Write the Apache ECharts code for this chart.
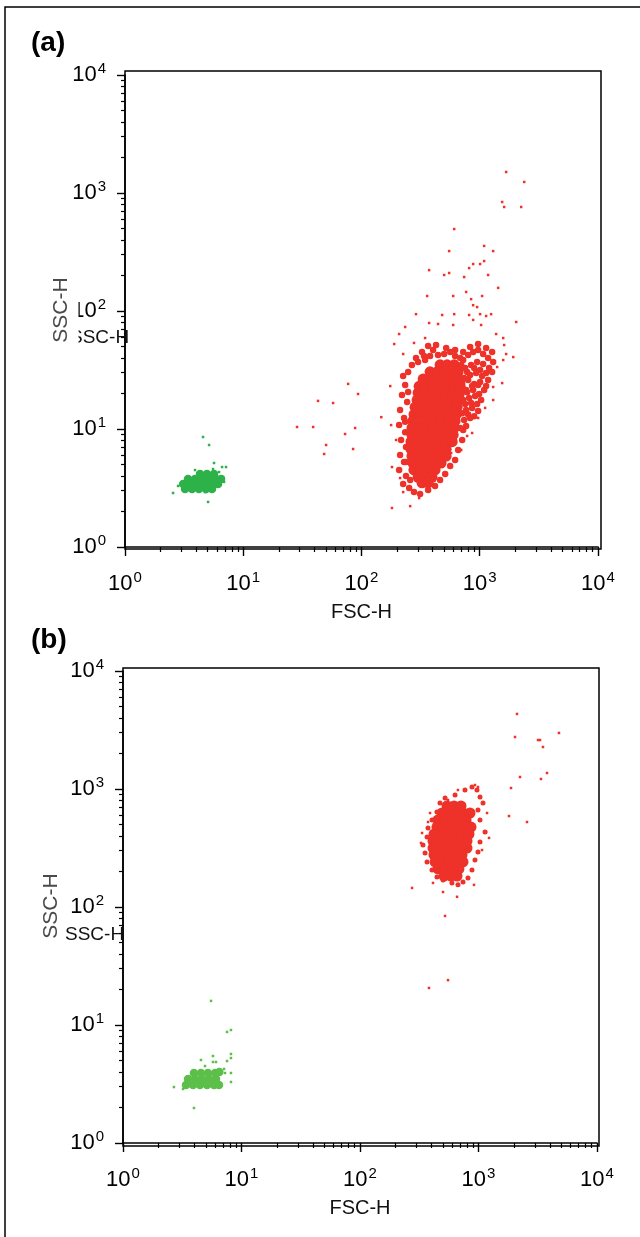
<!DOCTYPE html>
<html>
<head>
<meta charset="utf-8">
<script src="https://cdn.jsdelivr.net/npm/echarts@6/dist/echarts.min.js"></script>
<style>
  html, body { margin: 0; padding: 0; background: #fff; }
  #main { width: 640px; height: 1237px; }
</style>
</head>
<body>
<div id="main"></div>
<script>
// axis ticks (log decades) and their exponent labels
var decadeTicks = [1, 10, 100, 1000, 10000];
var decadeExps = ['0', '1', '2', '3', '4'];
var minorTicks = [2, 3, 4, 5, 6, 7, 8, 9, 20, 30, 40, 50, 60, 70, 80, 90,
  200, 300, 400, 500, 600, 700, 800, 900, 2000, 3000, 4000, 5000, 6000, 7000, 8000, 9000];

// panel (a) : [FSC-H, SSC-H]
var aRedCore = [
  [462,35],[530,35],[608,35],
  [380,30.5],[436,30.5],[500,30.5],[573,30.5],[657,30.5],
  [332,26.5],[380,26.5],[436,26.5],[500,26.5],[573,26.5],[657,26.5],
  [307,23],[352,23],[403,23],[462,23],[530,23],[608,23],[683,23],
  [301,20.2],[345,20.2],[395,20.2],[453,20.2],[520,20.2],[596,20.2],[670,20.2],
  [295,17.6],[338,17.6],[388,17.6],[444,17.6],[510,17.6],[585,17.6],[657,17.6],
  [284,15.3],[325,15.3],[373,15.3],[427,15.3],[490,15.3],[562,15.3],[644,15.3],
  [278,13.3],[319,13.3],[366,13.3],[419,13.3],[481,13.3],[551,13.3],[632,13.3],
  [272,11.7],[313,11.7],[359,11.7],[411,11.7],[471,11.7],[541,11.7],[619,11.7],
  [267,10.2],[307,10.2],[352,10.2],[403,10.2],[462,10.2],[530,10.2],[608,10.2],
  [267,8.9],[307,8.9],[352,8.9],[403,8.9],[462,8.9],[530,8.9],[596,8.9],
  [262,7.8],[301,7.8],[345,7.8],[395,7.8],[453,7.8],[520,7.8],[585,7.8],
  [262,6.75],[301,6.75],[345,6.75],[395,6.75],[453,6.75],[520,6.75],
  [267,5.9],[307,5.9],[352,5.9],[403,5.9],[462,5.9],[520,5.9],
  [272,5.15],[313,5.15],[359,5.15],[411,5.15],[471,5.15],
  [278,4.5],[319,4.5],[366,4.5],[419,4.5],
  [301,3.9],[345,3.9],[395,3.9],
  [325,3.5],[366,3.5]
];
var aRedEdge = [
  [234,23.6],[220,19.4],[243,16.9],[212,14.5],[229,12.4],[208,10.8],[234,9.4],[216,8.07],
  [238,7.04],[212,6.02],[229,5.25],[208,4.49],[238,4.0],[225,3.42],[253,3.16],[278,2.92],
  [313,2.81],[366,3.04],[419,3.29],[462,3.7],[510,4.16],[562,4.86],[619,5.46],[657,6.64],
  [710,8.07],[724,9.8],
  [225,28.1],[248,20.6],[234,11.5],[238,5.25],[258,3.7],[267,4.49],
  [248,30.4],[267,34.9],[289,40],[325,45],[366,50.5],[403,46.7],[444,42.4],[500,43.2],
  [562,45],[619,41.6],[683,40],[345,38.4],[380,41.6],
  [301,37],[338,41.6],[427,51.5],[520,48.5],[619,46.7],[724,45],[829,49.5],[969,52.5],
  [1132,48.5],[1273,45],[1298,37],
  [724,38.4],[798,42.4],[879,45],[969,46.7],[1068,43.2],[1177,40],
  [697,34.9],[782,30.4],[897,32.9],[1007,31.6],[1132,29.8],
  [752,32.9],[845,34.9],[950,37],[1068,35.5],[1200,32.9],
  [710,24.5],[798,26],[897,24.1],[1007,25],[1132,23.1],
  [738,27.1],[829,28.7],[932,29.8],[1047,28.1],[1177,26],[1273,30.4],
  [697,19.4],[782,20.5],[879,21.4],[988,19.8],
  [767,21.4],[862,23.1],[969,23.6],[1089,21.4],
  [752,16.3],[845,16.6],[950,16.3],
  [724,17.6],[813,18.3],[914,19],[1027,17.6],
  [710,13.6],[798,13.3],[897,12.8],[683,10.2],[767,10.6],
  [767,14.5],[862,15.1],[969,14.2],[738,11.9],[829,12.4]
];
var aRedSparse = [
  [1672,1507],[2377,1240],[1547,839],[1608,761],[2240,761],[608,495],[551,322],[1089,356],
  [1298,322],[373,222],[500,202],[551,210],[738,194],[813,231],[879,250],[1007,250],
  [1089,265],[1177,202],[1431,157],[359,134],[596,134],[767,145],[845,126],[879,112],
  [950,108],[1047,134],[289,94],[481,92.5],[608,94],[813,92.5],[1132,90.7],[1248,94],
  [2033,80.7],[1007,94],[234,73.2],[373,79.1],[444,77.6],[596,76.1],[879,84],[1027,76.1],
  [208,63.8],[189,52.5],[278,53.6],[345,59],[1376,63.8],[1578,59],[1608,51.5],[1919,40.7],
  [1672,43.2],[225,43.2],
  [77.1,24.1],[93.5,19.8],[42.9,17.3],[57.5,16.6],[175,23.1],[147,12.6],[28.5,10.4],
  [39,10.4],[88.3,10.2],[72.6,9.07],[50.2,7.32],[84.9,6.77],[48.3,6.14],
  [178,10.8],[196,8.07],[181,4.76],[212,3.84],[225,2.92],[181,2.14],[258,2.22],[307,2.6],
  [862,9.25],[782,8.73],[573,6.26],[697,6.64],[969,12.4],[1298,17.6],[1298,22.7],
  [1403,33.5],[1578,38.4],[1547,24.5],[1110,15.1]
];
var aGreenCore = [
  [4.31,4.16],[4.94,4.16],[5.66,4.16],
  [3.41,3.77],[3.91,3.77],[4.48,3.77],[5.14,3.77],[5.89,3.77],[6.49,3.77],
  [3.1,3.42],[3.55,3.42],[4.06,3.42],[4.66,3.42],[5.34,3.42],[6.12,3.42],
  [3.22,3.1],[3.69,3.1],[4.22,3.1],[4.84,3.1],[5.44,3.1]
];
var aGreenSparse = [
  [4.57,8.55],[5.14,7.32],[5.66,5.15],[6.62,4.76],[7.15,4.76],[5.55,4.58],[6.75,3.92],
  [2.55,2.87],[5.04,2.41],[3.22,3.04],[4.75,2.92],[2.81,3.29],[6.24,4.32],[3.91,4.49],[6.88,3.56]
];

// panel (b)
var bRedCore = [
  [543,718],[621,718],[712,718],
  [492,626],[564,626],[646,626],[740,626],[848,626],
  [455,546],[522,546],[597,546],[684,546],[785,546],
  [446,476],[512,476],[586,476],[671,476],[769,476],[865,476],
  [421,415],[483,415],[553,415],[634,415],[726,415],[832,415],
  [413,362],[473,362],[543,362],[621,362],[712,362],[800,362],
  [413,316],[473,316],[543,316],[621,316],[712,316],[800,316],
  [421,276],[483,276],[553,276],[634,276],[726,276],
  [430,241],[492,241],[564,241],[646,241],[740,241],
  [455,210],[522,210],[597,210],[684,210],
  [512,183],[586,183],[659,183]
];
var bRedEdge = [
  [522,839],[634,889],[769,981],[881,1040],[971,981],[1030,855],[1092,761],[990,664],
  [1030,546],[1135,432],[1030,356],[990,292],[934,250],[881,206],[815,176],[740,163],
  [671,154],[597,160],[502,169],[446,180],
  [405,206],[368,241],[354,287],[340,335],[368,392],[375,467],[405,546],[446,638],[473,761]
];
var bRedSparse = [
  [2113,4325],[2033,2760],[3178,2600],[3304,2600],[4777,2985],[3500,2270],[2240,1264],
  [3785,1367],[3366,1216],[1881,1020],[1808,590],[2566,525],[1227,385],[275,145],
  [502,134],[659,122],[522,84],[382,20.6],[553,24],
  [327,349],[334,424],[375,525],[390,626],[1180,626],[1157,432],[1071,304],[916,154],
  [413,160],[990,1040],[934,1081],[671,981],[553,807]
];
var bGreenCore = [
  [3.97,3.92],[4.55,3.92],[5.21,3.92],[5.98,3.92],[6.5,4.0],
  [3.54,3.49],[4.05,3.49],[4.64,3.49],[5.32,3.49],[6.09,3.49],
  [3.4,3.1],[3.9,3.1],[4.46,3.1],[5.12,3.1],[5.86,3.1],[6.46,3.1]
];
var bGreenSparse = [
  [5.53,16.0],[7.55,8.73],[8.15,9.07],[8.15,5.68],[8.15,5.25],[5.74,5.46],[4.55,5.05],
  [5.74,4.86],[6.09,4.86],[7.55,4.95],[7.12,4.24],[7.26,3.92],[8.15,3.92],[8.15,3.29],
  [3.97,1.98],[2.69,2.98],[4.92,4.49],[3.21,2.87]
];

var RED = '#ee3129';
var GREEN_A = '#2db24a';
var GREEN_B = '#5cbf4a';
var FONT = 'Liberation Sans, Arial, Helvetica, sans-serif';

var rich = {
  b: { fontFamily: FONT, fontSize: 22, color: '#000' },
  s: { fontFamily: FONT, fontSize: 15, color: '#000', padding: [0, 0, 13, 1] }
};
function expLabel(v) {
  var i = decadeTicks.indexOf(v);
  var e = i >= 0 ? decadeExps[i] : String(Math.round(Math.log(v) / Math.LN10));
  return '{b|10}{s|' + e + '}';
}

function mainX(g) {
  return {
    type: 'log', logBase: 10, gridIndex: g, min: 1, max: 10000, position: 'bottom',
    axisLine: { show: true, onZero: false, lineStyle: { color: '#000', width: 1.6 } },
    axisTick: { show: true, length: 9, customValues: decadeTicks, lineStyle: { color: '#000', width: 1.4 } },
    axisLabel: { customValues: decadeTicks, formatter: expLabel, margin: 23, fontSize: 22, rich: rich },
    splitLine: { show: false },
    name: 'FSC-H', nameLocation: 'middle', nameGap: 55,
    nameTextStyle: { fontFamily: FONT, fontSize: 20, color: '#111' }
  };
}
function minorX(g) {
  return {
    type: 'log', logBase: 10, gridIndex: g, min: 1, max: 10000, position: 'bottom', offset: 0,
    axisLine: { show: false },
    axisTick: { show: true, length: 5, customValues: minorTicks, lineStyle: { color: '#000', width: 1.2 } },
    axisLabel: { show: false },
    splitLine: { show: false }
  };
}
function mainY(g) {
  return {
    type: 'log', logBase: 10, gridIndex: g, min: 1, max: 10000, position: 'left',
    axisLine: { show: true, onZero: false, lineStyle: { color: '#000', width: 1.6 } },
    axisTick: { show: true, length: 8, customValues: decadeTicks, lineStyle: { color: '#000', width: 1.4 } },
    axisLabel: { customValues: decadeTicks, formatter: expLabel, margin: 19, fontSize: 22, rich: rich },
    splitLine: { show: false }
  };
}
function minorY(g) {
  return {
    type: 'log', logBase: 10, gridIndex: g, min: 1, max: 10000, position: 'left', offset: 0,
    axisLine: { show: false },
    axisTick: { show: true, length: 4, customValues: minorTicks, lineStyle: { color: '#000', width: 1.2 } },
    axisLabel: { show: false },
    splitLine: { show: false }
  };
}
function pts(data, axis, color, symbol, size) {
  return {
    type: 'scatter', xAxisIndex: axis, yAxisIndex: axis, data: data,
    symbol: symbol, symbolSize: size, silent: true,
    itemStyle: { color: color, opacity: 1 }
  };
}

var chart = echarts.init(document.getElementById('main'), null, { renderer: 'canvas' });
chart.setOption({
  backgroundColor: '#fff',
  animation: false,
  grid: [
    { left: 125, top: 75, width: 473, height: 472, show: false },
    { left: 123, top: 671, width: 474, height: 472, show: false }
  ],
  xAxis: [mainX(0), minorX(0), mainX(1), minorX(1)],
  yAxis: [mainY(0), minorY(0), mainY(1), minorY(1)],
  series: [
    pts(aRedCore, 0, RED, 'circle', 11),
    pts(aRedEdge, 0, RED, 'circle', 6.5),
    pts(aRedSparse, 0, RED, 'rect', 2.5),
    pts(aGreenCore, 0, GREEN_A, 'circle', 8.5),
    pts(aGreenSparse, 0, GREEN_A, 'rect', 2.5),
    pts(bRedCore, 2, RED, 'circle', 11),
    pts(bRedEdge, 2, RED, 'circle', 5),
    pts(bRedSparse, 2, RED, 'rect', 2.5),
    pts(bGreenCore, 2, GREEN_B, 'circle', 8.5),
    pts(bGreenSparse, 2, GREEN_B, 'rect', 2.5)
  ],
  graphic: [
    { type: 'polyline', z: 50, shape: { points: [[5, 1237], [5, 7], [640, 7]] },
      style: { stroke: '#000', lineWidth: 1.5, fill: null } },
    { type: 'rect', z: 50, shape: { x: 125, y: 71, width: 476, height: 478 },
      style: { stroke: '#000', lineWidth: 1.5, fill: null } },
    { type: 'rect', z: 50, shape: { x: 123, y: 668, width: 476, height: 478 },
      style: { stroke: '#000', lineWidth: 1.5, fill: null } },
    { type: 'text', z: 60, x: 31, y: 43,
      style: { text: '(a)', font: 'bold 28px ' + FONT, fill: '#000', verticalAlign: 'middle' } },
    { type: 'text', z: 60, x: 31, y: 640,
      style: { text: '(b)', font: 'bold 28px ' + FONT, fill: '#000', verticalAlign: 'middle' } },
    { type: 'text', z: 60, x: 70, y: 338,
      style: { text: 'SSC-H', font: '19px ' + FONT, fill: '#111', verticalAlign: 'middle' } },
    { type: 'text', z: 70, x: 61, y: 310, rotation: Math.PI / 2,
      style: { text: 'SSC-H', font: '21px ' + FONT, fill: '#4a4a4a', align: 'center', verticalAlign: 'middle',
        backgroundColor: '#fff', padding: [1, 6, 13, 6] } },
    { type: 'text', z: 60, x: 51, y: 906, rotation: Math.PI / 2,
      style: { text: 'SSC-H', font: '21px ' + FONT, fill: '#4a4a4a', align: 'center', verticalAlign: 'middle' } },
    { type: 'text', z: 70, x: 65, y: 935,
      style: { text: 'SSC-H', font: '19px ' + FONT, fill: '#111', verticalAlign: 'middle' } }
  ]
});
</script>
</body>
</html>
